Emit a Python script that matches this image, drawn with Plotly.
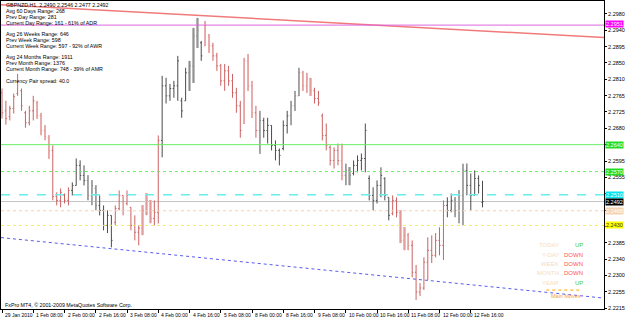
import plotly.graph_objects as go

# ---------------- data (GBPNZD) ----------------
tick_labels = ["29 Jan 2010", "1 Feb 08:00", "2 Feb 00:00", "2 Feb 16:00", "3 Feb 08:00",
               "4 Feb 00:00", "4 Feb 16:00", "5 Feb 08:00", "8 Feb 00:00", "8 Feb 16:00",
               "9 Feb 08:00", "10 Feb 00:00", "10 Feb 16:00", "11 Feb 08:00", "12 Feb 00:00",
               "12 Feb 16:00"]
bars_per_label = 8

highs = [2.2786, 2.2754, 2.2741, 2.2773, 2.2824, 2.2786, 2.2728, 2.2741, 2.2767, 2.2754,
         2.2723, 2.2690, 2.2664, 2.2638, 2.2516, 2.2526, 2.2513, 2.2529, 2.2542, 2.2604,
         2.2599, 2.2586, 2.2560, 2.2547, 2.2534, 2.2508, 2.2482, 2.2469, 2.2456, 2.2482,
         2.2521, 2.2508, 2.2521, 2.2477, 2.2456, 2.2430, 2.2482, 2.2513, 2.2495, 2.2495,
         2.2664, 2.2819, 2.2814, 2.2798, 2.2806, 2.2871, 2.2762, 2.2840, 2.2858, 2.2944,
         2.2970, 2.2910, 2.2962, 2.2928, 2.2905, 2.2879, 2.2850, 2.2850, 2.2845, 2.2824,
         2.2788, 2.2754, 2.2866, 2.2876, 2.2806, 2.2741, 2.2728, 2.2710, 2.2710, 2.2690,
         2.2651, 2.2630, 2.2703, 2.2728, 2.2754, 2.2780, 2.2840, 2.2832, 2.2827, 2.2814,
         2.2788, 2.2780, 2.2721, 2.2695, 2.2638, 2.2633, 2.2643, 2.2643, 2.2591, 2.2581,
         2.2599, 2.2612, 2.2617, 2.2695, 2.2560, 2.2529, 2.2547, 2.2581, 2.2555, 2.2503,
         2.2508, 2.2503, 2.2469, 2.2425, 2.2410, 2.2391, 2.2327, 2.2280, 2.2347, 2.2399,
         2.2404, 2.2410, 2.2425, 2.2495, 2.2503, 2.2513, 2.2503, 2.2521, 2.2591, 2.2591,
         2.2565, 2.2573, 2.2560, 2.2546]
lows = [2.2708, 2.2692, 2.2703, 2.2721, 2.2767, 2.2728, 2.2684, 2.2690, 2.2703, 2.2708,
        2.2664, 2.2651, 2.2604, 2.2495, 2.2482, 2.2477, 2.2487, 2.2482, 2.2508, 2.2534,
        2.2547, 2.2534, 2.2495, 2.2482, 2.2469, 2.2456, 2.2417, 2.2410, 2.2373, 2.2430,
        2.2469, 2.2456, 2.2482, 2.2417, 2.2391, 2.2378, 2.2404, 2.2456, 2.2435, 2.2430,
        2.2435, 2.2607, 2.2747, 2.2754, 2.2762, 2.2754, 2.2710, 2.2754, 2.2780, 2.2801,
        2.2892, 2.2858, 2.2897, 2.2879, 2.2858, 2.2832, 2.2793, 2.2780, 2.2793, 2.2762,
        2.2723, 2.2658, 2.2695, 2.2780, 2.2710, 2.2658, 2.2617, 2.2658, 2.2643, 2.2625,
        2.2599, 2.2586, 2.2625, 2.2669, 2.2690, 2.2728, 2.2767, 2.2780, 2.2775, 2.2767,
        2.2747, 2.2741, 2.2651, 2.2625, 2.2586, 2.2578, 2.2586, 2.2547, 2.2534, 2.2534,
        2.2560, 2.2568, 2.2573, 2.2568, 2.2495, 2.2469, 2.2487, 2.2503, 2.2495, 2.2443,
        2.2456, 2.2451, 2.2384, 2.2365, 2.2365, 2.2295, 2.2236, 2.2246, 2.2262, 2.2288,
        2.2332, 2.2347, 2.2352, 2.2340, 2.2451, 2.2464, 2.2451, 2.2435, 2.2430, 2.2508,
        2.2469, 2.2508, 2.2513, 2.2477]
opens = [2.2775, 2.2728, 2.2713, 2.2734, 2.2773, 2.2780, 2.2723, 2.2697, 2.2728, 2.2749,
         2.2715, 2.2677, 2.2658, 2.2625, 2.2505, 2.2495, 2.2508, 2.2495, 2.2521, 2.2534,
         2.2586, 2.2560, 2.2547, 2.2508, 2.2526, 2.2482, 2.2469, 2.2430, 2.2456, 2.2438,
         2.2474, 2.2508, 2.2487, 2.2477, 2.2430, 2.2412, 2.2423, 2.2469, 2.2495, 2.2448,
         2.2464, 2.2651, 2.2793, 2.2767, 2.2786, 2.2793, 2.2754, 2.2754, 2.2827, 2.2845,
         2.2923, 2.2905, 2.2897, 2.2923, 2.2897, 2.2871, 2.2845, 2.2806, 2.2832, 2.2806,
         2.2775, 2.2741, 2.2695, 2.2858, 2.2793, 2.2723, 2.2677, 2.2703, 2.2677, 2.2690,
         2.2638, 2.2625, 2.2630, 2.2690, 2.2715, 2.2741, 2.2767, 2.2827, 2.2793, 2.2811,
         2.2780, 2.2760, 2.2715, 2.2664, 2.2633, 2.2599, 2.2625, 2.2599, 2.2560, 2.2573,
         2.2565, 2.2586, 2.2599, 2.2604, 2.2552, 2.2508, 2.2495, 2.2534, 2.2552, 2.2503,
         2.2461, 2.2495, 2.2464, 2.2391, 2.2404, 2.2378, 2.2308, 2.2257, 2.2267, 2.2334,
         2.2365, 2.2352, 2.2391, 2.2378, 2.2482, 2.2469, 2.2495, 2.2469, 2.2508, 2.2573,
         2.2534, 2.2508, 2.2552, 2.2490]
closes = [2.2723, 2.2708, 2.2734, 2.2765, 2.2806, 2.2741, 2.2697, 2.2728, 2.2754, 2.2715,
          2.2677, 2.2661, 2.2625, 2.2505, 2.2495, 2.2516, 2.2495, 2.2521, 2.2534, 2.2586,
          2.2560, 2.2547, 2.2508, 2.2534, 2.2482, 2.2469, 2.2430, 2.2456, 2.2391, 2.2474,
          2.2508, 2.2469, 2.2508, 2.2430, 2.2412, 2.2423, 2.2469, 2.2495, 2.2448, 2.2464,
          2.2651, 2.2793, 2.2767, 2.2786, 2.2793, 2.2858, 2.2728, 2.2827, 2.2845, 2.2923,
          2.2936, 2.2871, 2.2949, 2.2897, 2.2871, 2.2845, 2.2806, 2.2832, 2.2806, 2.2775,
          2.2741, 2.2677, 2.2858, 2.2793, 2.2723, 2.2677, 2.2703, 2.2677, 2.2690, 2.2638,
          2.2625, 2.2612, 2.2690, 2.2715, 2.2741, 2.2767, 2.2827, 2.2793, 2.2811, 2.2780,
          2.2760, 2.2749, 2.2664, 2.2638, 2.2599, 2.2625, 2.2599, 2.2560, 2.2573, 2.2560,
          2.2586, 2.2599, 2.2604, 2.2677, 2.2508, 2.2495, 2.2534, 2.2560, 2.2508, 2.2456,
          2.2495, 2.2464, 2.2391, 2.2404, 2.2378, 2.2308, 2.2257, 2.2267, 2.2334, 2.2365,
          2.2352, 2.2391, 2.2378, 2.2482, 2.2469, 2.2495, 2.2469, 2.2508, 2.2573, 2.2534,
          2.2508, 2.2552, 2.2534, 2.2492]
# indicator state per bar: d = bull trend, r = bear trend
trend = list("rrrrrrrrrrrrrrrrrr" "ddddddddddd" "rrrrrrrrrrrr" "ddddddddddd"
             "rrrrrrrrrrrrrr" "ddddddddddd" "rrrrrrrrrrr" "dddddddddddd"
             "rrrrrrrrrrrrrr" "dddddddddd")
# highlighted bars: p = pink highlight, g = grey highlight, . = none
highlight = list("........." "pppp" "........." "ggg" "..........." "ppp" "........."
                 "ggg" "." "pp" "........" "ppp" "." "g" "......." "ggg" "ppp" "......."
                 "p" "gg" "............" "ppp" "..........." "ggg" "......")

# price scale: evenly spaced grid values and the labels the terminal prints for them
price_tick_values = [2.29800, 2.29375, 2.28950, 2.28525, 2.28100, 2.27675, 2.27250, 2.26825,
                     2.26400, 2.25975, 2.25550, 2.25125, 2.24700, 2.24275, 2.23850, 2.23425,
                     2.23000, 2.22575, 2.22150]
price_tick_labels = ["2.2980", "2.2940", "2.2895", "2.2850", "2.2810", "2.2765", "2.2725",
                     "2.2680", "", "2.2595", "2.2555", "", "", "", "2.2385", "2.2340",
                     "2.2300", "2.2255", "2.2215"]

level_prices = [2.2951, 2.2640, 2.2570, 2.2510, 2.2468, 2.2430]
resistance_pts = [(0, 2.3004), (150, 2.2921)]
support_pts = [(0, 2.2398), (150, 2.2245)]

info_lines = [
    "GBPNZD,H1  2.2490 2.2546 2.2477 2.2492",
    "Avg 60 Days Range: 268",
    "Prev Day Range: 281",
    "Current Day Range: 161 - 61% of ADR",
    "Avg 26 Weeks Range: 646",
    "Prev Week Range: 598",
    "Current Week Range: 597 - 92% of AWR",
    "Avg 24 Months Range: 1911",
    "Prev Month Range: 1376",
    "Current Month Range: 748 - 39% of AMR",
    "Currency Pair spread: 40.0",
]
trend_periods = ["TODAY", "Y-DAY", "WEEK", "MONTH", "YEAR"]
trend_dirs = ["UP", "DOWN", "DOWN", "DOWN", "UP"]

# ---------------- figure ----------------
W, H = 625, 319
ML, MR, MT, MB = 0, 19, 0, 10
PW, PH = W - ML - MR, H - MT - MB
X_RANGE = [-0.255, 154.1]
Y_RANGE = [2.22125, 2.30137]

def px_x(p):
    return p / PW

def px_y(p):
    return 1 - p / PH

fig = go.Figure()
n = len(highs)
idx = list(range(n))

# highlight bands behind bars
band_col = {"p": "#F3BDBD", "g": "#BEBEBE"}
for key, col in band_col.items():
    sel = [i for i in idx if highlight[i] == key]
    fig.add_trace(go.Bar(x=sel, y=[highs[i] - lows[i] for i in sel],
                         base=[lows[i] for i in sel], width=0.62,
                         marker=dict(color=col, line=dict(width=0)),
                         hoverinfo="skip", showlegend=False))

groups = [("d", False, "#4B4B4B"), ("r", False, "#CB6262"),
          ("d", True, "#8E8E8E"), ("r", True, "#E09A9A")]
for tr, hl, col in groups:
    sel = [i for i in idx if trend[i] == tr and (highlight[i] != ".") == hl]
    if not sel:
        continue
    fig.add_trace(go.Ohlc(x=sel, open=[opens[i] for i in sel], high=[highs[i] for i in sel],
                          low=[lows[i] for i in sel], close=[closes[i] for i in sel],
                          increasing=dict(line=dict(color=col, width=1)),
                          decreasing=dict(line=dict(color=col, width=1)),
                          tickwidth=0.3, hoverinfo="skip", showlegend=False))

# trend lines extended across the chart
def extend(pts):
    (x0, y0), (x1, y1) = pts
    k = (y1 - y0) / (x1 - x0)
    return [X_RANGE[0], X_RANGE[1]], [y0 + k * (X_RANGE[0] - x0), y0 + k * (X_RANGE[1] - x0)]

rx, ry = extend(resistance_pts)
fig.add_trace(go.Scatter(x=rx, y=ry, mode="lines", line=dict(color="#F07A7A", width=1.5),
                         hoverinfo="skip", showlegend=False))
sx, sy = extend(support_pts)
fig.add_trace(go.Scatter(x=sx, y=sy, mode="lines", line=dict(color="#5A5AF0", width=1, dash="dot"),
                         hoverinfo="skip", showlegend=False))

# horizontal levels
level_styles = [("#DD66DD", "solid", 1, "#FF00FF", "white", 1),
                ("#66EE66", "solid", 1, "#22DD22", "white", 0),
                ("#66EE66", "dot", 1, "#22DD22", "white", 0),
                ("#66EEEE", "dash", 1.5, "#00E5EE", "white", 0),
                ("#F5D2B0", "dot", 1, "#F5D2B0", "white", 0),
                ("#EEEE55", "dot", 1, "#FFFF00", "#333333", 0)]
shapes = []
annotations = []
for lvl, (lc, dash, lw, bg, fc, ys) in zip(level_prices, level_styles):
    shapes.append(dict(type="line", xref="paper", x0=0, x1=1, yref="y", y0=lvl, y1=lvl,
                       line=dict(color=lc, width=lw, dash=dash), layer="above"))
bid = closes[-1]
shapes.append(dict(type="line", xref="paper", x0=0, x1=1, yref="y", y0=bid, y1=bid,
                   line=dict(color="#C4C4C4", width=1), layer="below"))

label_font = dict(family="Liberation Sans, Arial", size=5.5)
for lvl, (lc, dash, lw, bg, fc, ys) in zip(level_prices + [bid],
                                           level_styles + [("", "", 0, "#000000", "white", 0)]):
    annotations.append(dict(xref="paper", x=1, xanchor="left", xshift=1, yref="y", y=lvl,
                            yanchor="middle", yshift=ys, text=f"{lvl:.4f}", showarrow=False,
                            bgcolor=bg, borderpad=0, font=dict(label_font, color=fc)))

# x-axis labels (left aligned next to tick)
for k, lab in enumerate(tick_labels):
    annotations.append(dict(xref="x", x=k * bars_per_label, xanchor="left", xshift=1,
                            yref="paper", y=0, yanchor="top", yshift=-1, text=lab,
                            showarrow=False,
                            font=dict(family="Liberation Sans, Arial", size=5, color="black")))

# info text block, top left
info_y = [4.5, 10.5, 16.3, 22.1, 33.3, 39.1, 44.9, 56.3, 62.1, 67.9, 80.0]
for txt, yp in zip(info_lines, info_y):
    annotations.append(dict(xref="paper", x=px_x(3), xanchor="left", yref="paper", y=px_y(yp),
                            yanchor="middle", text=txt, showarrow=False,
                            font=dict(family="Liberation Sans, Arial", size=5.3, color="black")))

# trend panel, bottom right
panel_y = [245, 254.5, 264, 273.3, 282.7]
for per, d, yp in zip(trend_periods, trend_dirs, panel_y):
    annotations.append(dict(xref="paper", x=px_x(563), xanchor="right", yref="paper", y=px_y(yp),
                            yanchor="middle", text=per, showarrow=False,
                            font=dict(family="Liberation Sans, Arial", size=6, color="#F5DCC0")))
    annotations.append(dict(xref="paper", x=px_x(587), xanchor="right", yref="paper", y=px_y(yp),
                            yanchor="middle", text=d, showarrow=False,
                            font=dict(family="Liberation Sans, Arial", size=6,
                                      color="#44CC44" if d == "UP" else "#FF5555")))
shapes.append(dict(type="line", xref="paper", yref="paper", x0=px_x(548), x1=px_x(584),
                   y0=px_y(290), y1=px_y(290), line=dict(color="#FFA500", width=1, dash="dot")))
annotations.append(dict(xref="paper", x=px_x(568), xanchor="center", yref="paper", y=px_y(295.5),
                        yanchor="middle", text="Main Moves", showarrow=False,
                        font=dict(family="Liberation Sans, Arial", size=5.5, color="#F5A040")))

annotations.append(dict(xref="paper", x=px_x(2), xanchor="left", yref="paper", y=px_y(305),
                        yanchor="middle", text="FxPro MT4, \u00a9 2001-2009 MetaQuotes Software Corp.",
                        showarrow=False, font=dict(family="Liberation Sans, Arial", size=5.3,
                                                   color="black")))

fig.update_layout(
    width=W, height=H, margin=dict(l=ML, r=MR, t=MT, b=MB),
    paper_bgcolor="white", plot_bgcolor="white", showlegend=False,
    shapes=shapes, annotations=annotations, bargap=0,
    xaxis=dict(range=X_RANGE, showgrid=False, zeroline=False, showline=True, mirror=True,
               linecolor="black", linewidth=1, ticks="outside", ticklen=3, tickcolor="black",
               tickvals=[k * bars_per_label for k in range(len(tick_labels))],
               showticklabels=False, rangeslider=dict(visible=False), fixedrange=True),
    yaxis=dict(range=Y_RANGE, side="right", showgrid=False, zeroline=False, showline=True,
               mirror=True, linecolor="black", linewidth=1, ticks="outside", ticklen=2,
               tickcolor="black", tickvals=price_tick_values, ticktext=price_tick_labels,
               tickfont=dict(label_font, color="black"), fixedrange=True),
)

fig.write_html("out.html")
